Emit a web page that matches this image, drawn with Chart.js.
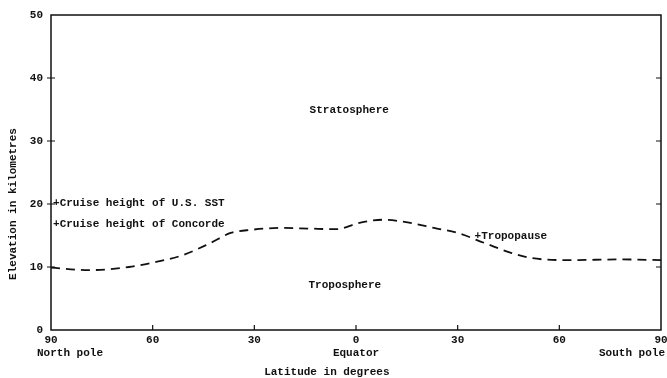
<!DOCTYPE html>
<html lang="en">
<head>
  <meta charset="UTF-8">
  <title>Tropopause height by latitude</title>
  <script src="https://cdn.jsdelivr.net/npm/chart.js"></script>
  <style>
    body {
      margin: 0;
      background: #fff;
    }
    #wrap {
      width: 667px;
      height: 378px;
    }
  </style>
</head>
<body>
  <div id="wrap"><canvas id="chart"></canvas></div>

<script>
// latitude: north pole = -90, south pole = +90
const latitudes = [-90, -79, -67, -59, -51, -43, -37, -31, -22, -14, -6, 1, 8, 16, 23, 30, 38, 46, 52, 63, 78, 90];
const tropopause = [9.9, 9.5, 10.0, 10.8, 11.9, 13.8, 15.4, 15.9, 16.2, 16.1, 16.0, 17.0, 17.5, 17.0, 16.2, 15.4, 13.8, 12.2, 11.4, 11.1, 11.2, 11.1];
const latTicks = [-90, -60, -30, 0, 30, 60, 90];
const elevTicks = [0, 10, 20, 30, 40, 50];
const placeNames = [
  { lat: -90, text: 'North pole', align: 'left' },
  { lat: 0, text: 'Equator', align: 'center' },
  { lat: 90, text: 'South pole', align: 'right' }
];
const notes = [
  { lat: -2, elev: 34.9, text: 'Stratosphere', align: 'center' },
  { lat: -3.3, elev: 7.1, text: 'Troposphere', align: 'center' },
  { lat: 35, elev: 14.9, text: '+Tropopause', align: 'left' },
  { lat: -89.4, elev: 20.2, text: '+Cruise height of U.S. SST', align: 'left' },
  { lat: -89.4, elev: 16.8, text: '+Cruise height of Concorde', align: 'left' }
];

const FONT = '"Liberation Mono", "DejaVu Sans Mono", monospace';
const INK = '#111';

// frame, tick marks and all the typed labels
const paperPlugin = {
  id: 'paper',
  afterDraw(chart) {
    const ctx = chart.ctx;
    const xs = chart.scales.x;
    const ys = chart.scales.y;
    const a = chart.chartArea;
    ctx.save();
    ctx.strokeStyle = INK;
    ctx.lineWidth = 1.5;
    ctx.strokeRect(a.left, a.top, a.right - a.left, a.bottom - a.top);

    ctx.lineWidth = 1.2;
    elevTicks.forEach(v => {
      if (v === 0 || v === 50) return;
      const y = ys.getPixelForValue(v);
      ctx.beginPath();
      ctx.moveTo(a.left - 4, y);
      ctx.lineTo(a.left + 4, y);
      ctx.moveTo(a.right, y);
      ctx.lineTo(a.right - 5, y);
      ctx.stroke();
    });
    latTicks.forEach(v => {
      if (Math.abs(v) === 90) return;
      const x = xs.getPixelForValue(v);
      ctx.beginPath();
      ctx.moveTo(x, a.bottom);
      ctx.lineTo(x, a.bottom - 5);
      ctx.stroke();
    });

    ctx.fillStyle = INK;
    ctx.font = 'bold 11px ' + FONT;
    ctx.textBaseline = 'middle';
    placeNames.forEach(p => {
      let x = xs.getPixelForValue(p.lat);
      if (p.align === 'left') x -= 14;
      if (p.align === 'right') x += 4;
      ctx.textAlign = p.align;
      ctx.fillText(p.text, x, a.bottom + 23);
    });
    notes.forEach(n => {
      ctx.textAlign = n.align;
      ctx.fillText(n.text, xs.getPixelForValue(n.lat), ys.getPixelForValue(n.elev));
    });

    // axis titles
    ctx.textAlign = 'center';
    ctx.fillText('Latitude in degrees', xs.getPixelForValue(-8.6), a.bottom + 42);
    ctx.translate(13, ys.getPixelForValue(20));
    ctx.rotate(-Math.PI / 2);
    ctx.fillText('Elevation in kilometres', 0, 0);
    ctx.restore();
  }
};

new Chart(document.getElementById('chart'), {
  type: 'line',
  data: {
    datasets: [{
      label: 'Tropopause',
      data: latitudes.map((lat, i) => ({ x: lat, y: tropopause[i] })),
      borderColor: INK,
      borderWidth: 1.8,
      borderDash: [9, 6],
      pointRadius: 0,
      cubicInterpolationMode: 'monotone',
      fill: false
    }]
  },
  options: {
    responsive: true,
    maintainAspectRatio: false,
    animation: false,
    layout: { padding: { top: 15, right: 6, left: 0, bottom: 0 } },
    plugins: {
      legend: { display: false },
      tooltip: { enabled: false }
    },
    scales: {
      x: {
        type: 'linear',
        min: -90,
        max: 90,
        grid: { display: false, tickLength: 0 },
        border: { display: false },
        afterBuildTicks: s => { s.ticks = latTicks.map(v => ({ value: v })); },
        afterFit: s => {
          s.height = 48;
          s.paddingLeft = 0;
          s.paddingRight = 0;
        },
        ticks: {
          color: INK,
          font: { family: FONT, size: 11, weight: 'bold' },
          padding: 4,
          maxRotation: 0,
          callback: v => Math.abs(v)
        }
      },
      y: {
        min: 0,
        max: 50,
        grid: { display: false, tickLength: 0 },
        border: { display: false },
        afterBuildTicks: s => { s.ticks = elevTicks.map(v => ({ value: v })); },
        afterFit: s => { s.width = 51; },
        ticks: {
          color: INK,
          font: { family: FONT, size: 11, weight: 'bold' },
          padding: 8
        }
      }
    }
  },
  plugins: [paperPlugin]
});
</script>
</body>
</html>
